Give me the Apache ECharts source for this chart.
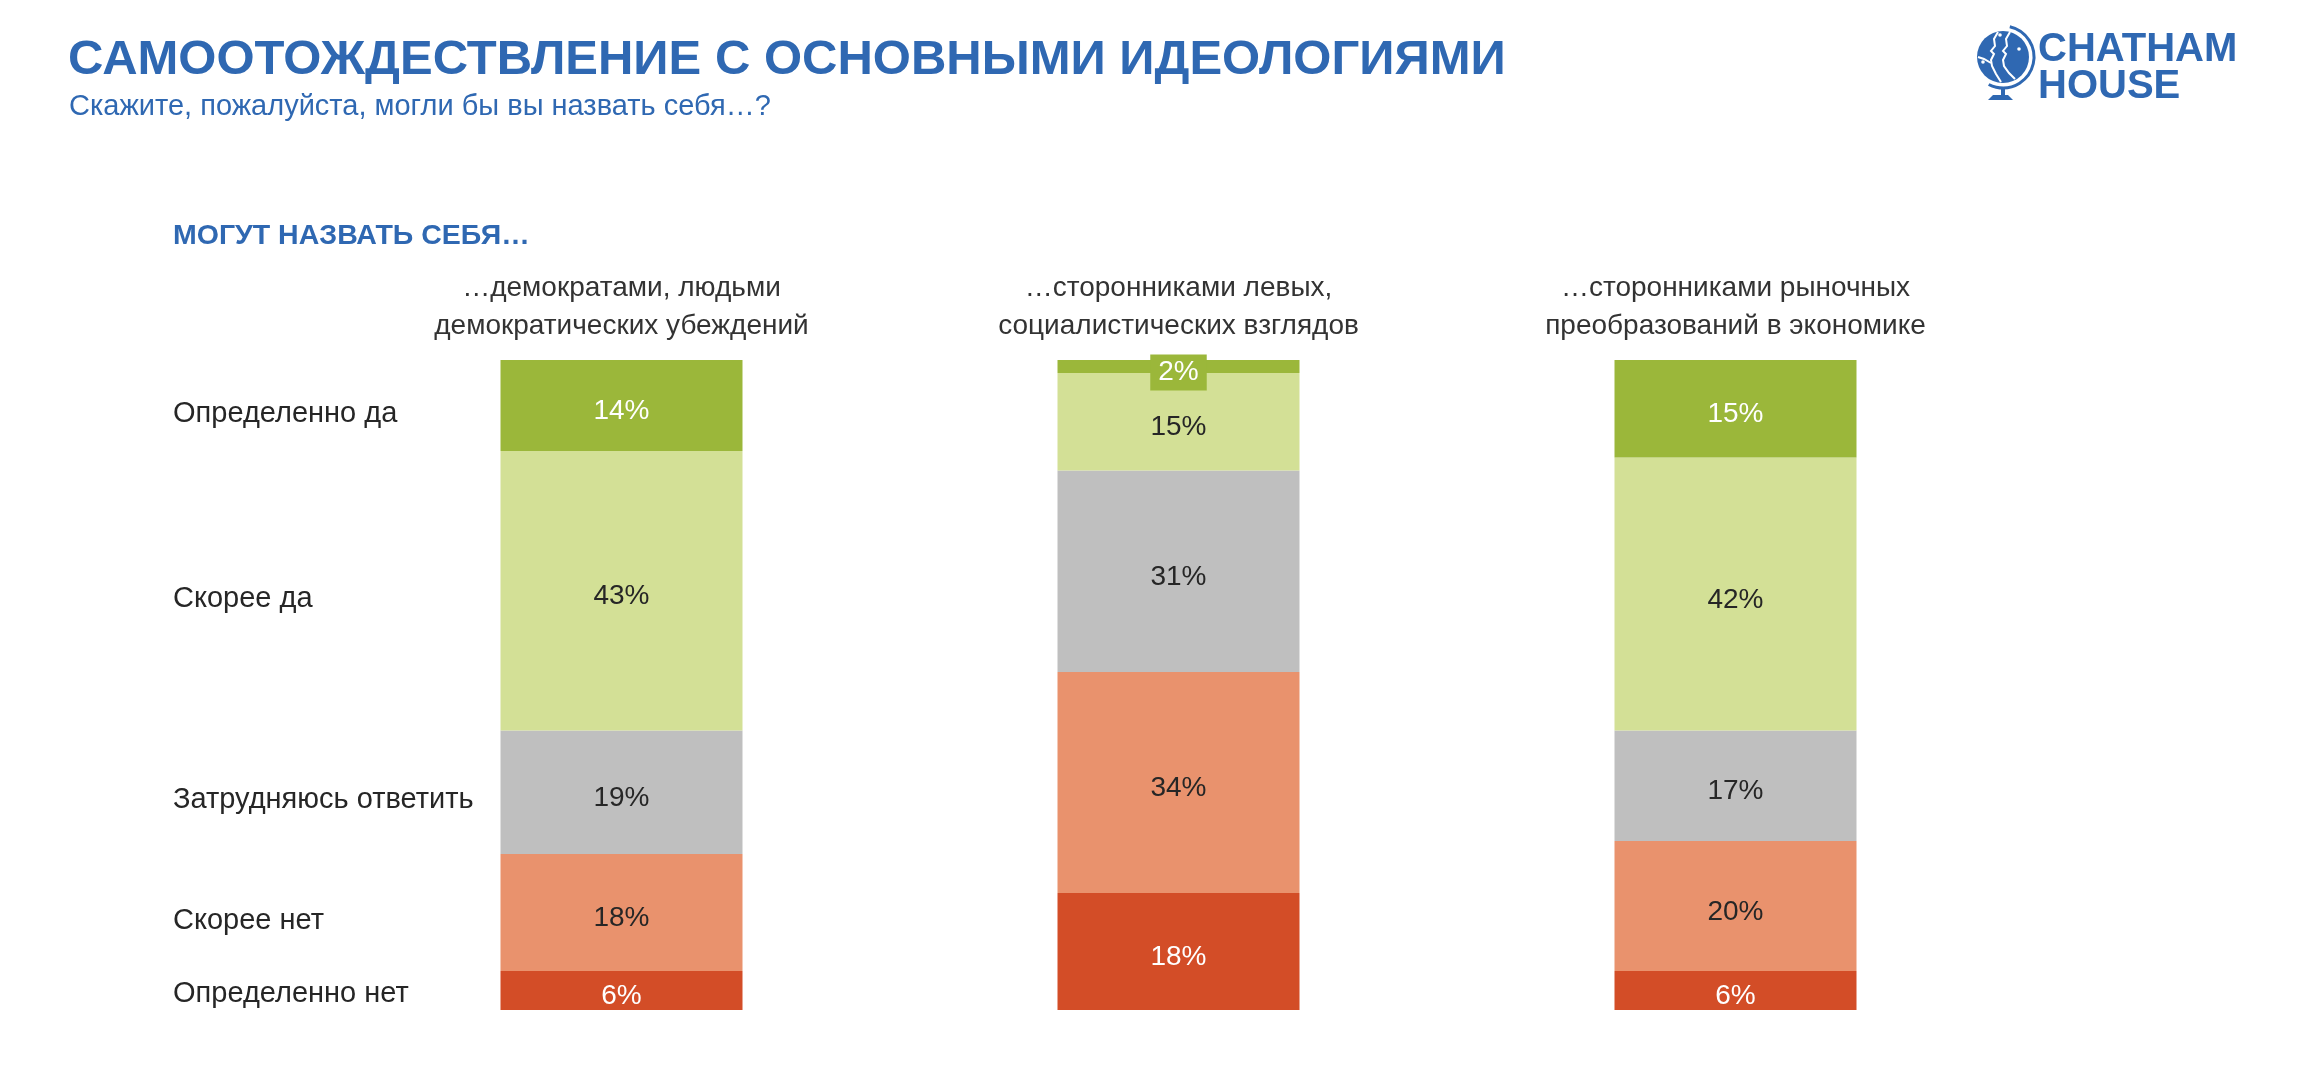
<!DOCTYPE html>
<html>
<head>
<meta charset="utf-8">
<script src="https://cdn.jsdelivr.net/npm/echarts@6/dist/echarts.min.js"></script>
<style>
html,body{margin:0;padding:0;background:#fff;}
#chart{width:2302px;height:1070px;}
</style>
</head>
<body>
<div id="chart"></div>
<script>
// ---- data ----
const categories = [
  '…демократами, людьми\nдемократических убеждений',
  '…сторонниками левых,\nсоциалистических взглядов',
  '…сторонниками рыночных\nпреобразований в экономике'
];
const seriesNames = ['Определенно нет', 'Скорее нет', 'Затрудняюсь ответить', 'Скорее да', 'Определенно да'];
const definitelyNo  = [6, 18, 6];
const ratherNo      = [18, 34, 20];
const hardToSay     = [19, 31, 17];
const ratherYes     = [43, 15, 42];
const definitelyYes = [14, 2, 15];

const seriesValues = [definitelyNo, ratherNo, hardToSay, ratherYes, definitelyYes];
const seriesColors = ['#D34D27', '#E9926D', '#BFBFBF', '#D3E096', '#9BB73A'];
const labelColors  = ['#ffffff', '#262626', '#262626', '#262626', '#ffffff'];
const BLUE = '#2F68B2';
const FONT = '"Liberation Sans", Arial, Helvetica, sans-serif';
const LABEL_DY = 6;

const chart = echarts.init(document.getElementById('chart'), null, {renderer: 'canvas'});

const series = seriesValues.map((vals, i) => ({
  name: seriesNames[i],
  type: 'bar',
  stack: 'total',
  barWidth: 242,
  itemStyle: { color: seriesColors[i] },
  label: {
    show: true,
    position: 'inside',
    offset: [0, LABEL_DY],
    formatter: '{c}%',
    fontSize: 28,
    fontFamily: FONT,
    color: labelColors[i]
  },
  data: vals.map(v => v < 5 ? {
    value: v,
    label: { backgroundColor: seriesColors[i], padding: [5, 8, 3, 8] }
  } : v)
}));

const option = {
  backgroundColor: '#ffffff',
  animation: false,
  textStyle: { fontFamily: FONT },
  title: [
    { text: 'САМООТОЖДЕСТВЛЕНИЕ С ОСНОВНЫМИ ИДЕОЛОГИЯМИ', left: 68, top: 36, padding: 0,
      textStyle: { fontSize: 49, fontWeight: 'bold', color: BLUE, fontFamily: FONT } },
    { text: 'Скажите, пожалуйста, могли бы вы назвать себя…?', left: 69, top: 92, padding: 0,
      textStyle: { fontSize: 29, fontWeight: 'normal', color: BLUE, fontFamily: FONT } },
    { text: 'МОГУТ НАЗВАТЬ СЕБЯ…', left: 173, top: 222, padding: 0,
      textStyle: { fontSize: 28.5, fontWeight: 'bold', color: BLUE, fontFamily: FONT } }
  ],
  grid: { left: 343, right: 288, top: 360, bottom: 60, containLabel: false },
  xAxis: {
    type: 'category',
    position: 'top',
    data: categories,
    axisLine: { show: false },
    axisTick: { show: false },
    axisLabel: { fontSize: 28, lineHeight: 38, color: '#333333', margin: 15, fontFamily: FONT, interval: 0 }
  },
  yAxis: { type: 'value', min: 0, max: 100, show: false },
  series: series
};
chart.setOption(option);

// row labels placed at segment centers of the first bar, via the library's scale
const graphics = [];
let cum = 0;
seriesValues.forEach((vals, i) => {
  const mid = cum + vals[0] / 2;
  cum += vals[0];
  const y = chart.convertToPixel({xAxisIndex: 0, yAxisIndex: 0}, [0, mid])[1];
  graphics.push({
    type: 'text', x: 173, y: y + LABEL_DY + (i === 0 ? -3 : 2),
    style: { text: seriesNames[i], fontSize: 29, fill: '#262626', fontFamily: FONT,
             align: 'left', verticalAlign: 'middle' }
  });
});

// logo
const gx = 2003, gy = 57;
const wl = { stroke: '#ffffff', lineWidth: 2, fill: null };
graphics.push(
  { type: 'circle', shape: { cx: gx, cy: gy, r: 26 }, style: { fill: BLUE } },
  { type: 'arc', shape: { cx: gx, cy: gy, r: 31, startAngle: -1.35, endAngle: 2.05, clockwise: true },
    style: { stroke: BLUE, lineWidth: 3, fill: null } },
  { type: 'rect', shape: { x: gx - 2, y: 87, width: 4, height: 10 }, style: { fill: BLUE } },
  { type: 'polygon', shape: { points: [[1988, 100], [2013, 100], [2008, 95], [1993, 95]] }, style: { fill: BLUE } },
  { type: 'polyline', shape: { points: [[1998, 32], [1994, 39], [1995, 46], [1991, 51], [1994, 54], [1991, 60], [1992, 66], [1996, 74], [2001, 82]] },
    style: wl },
  { type: 'polyline', shape: { points: [[2010, 32], [2006, 39], [2007, 46], [2003, 51], [2006, 54], [2003, 60], [2004, 66], [2009, 73], [2015, 79]] },
    style: wl },
  { type: 'polyline', shape: { points: [[1978, 57], [1984, 59], [1991, 63]] }, style: wl },
  { type: 'circle', shape: { cx: 1983, cy: 62, r: 1.8 }, style: { fill: '#ffffff' } },
  { type: 'circle', shape: { cx: 2000, cy: 35, r: 1.8 }, style: { fill: '#ffffff' } },
  { type: 'circle', shape: { cx: 2019, cy: 49, r: 1.8 }, style: { fill: '#ffffff' } },
  { type: 'text', x: 2038, y: 50,
    style: { text: 'CHATHAM', fontSize: 40, fontWeight: 'bold', fill: BLUE, fontFamily: FONT, verticalAlign: 'middle' } },
  { type: 'text', x: 2038, y: 87,
    style: { text: 'HOUSE', fontSize: 40, fontWeight: 'bold', fill: BLUE, fontFamily: FONT, verticalAlign: 'middle' } }
);
chart.setOption({ graphic: { elements: graphics } });
</script>
</body>
</html>
